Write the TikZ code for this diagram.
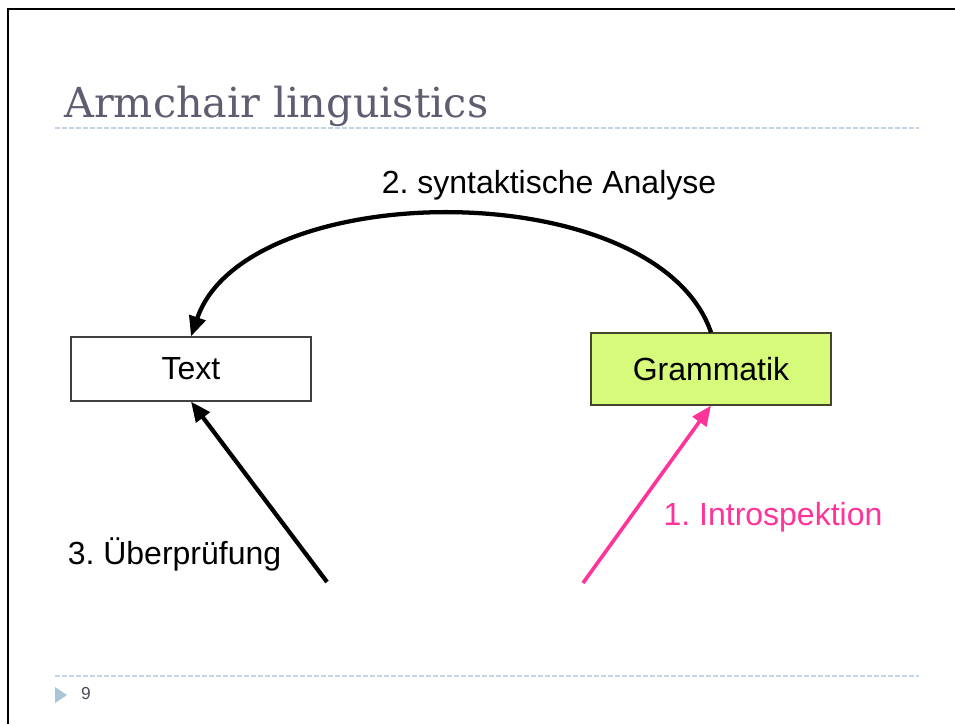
\documentclass[tikz,border=0pt]{standalone}
\usepackage{fontspec}
\setsansfont{Liberation Sans}
\newfontfamily\titlefont{DejaVu Serif}
\usetikzlibrary{arrows.meta}
\definecolor{titlegray}{RGB}{95,93,112}
\definecolor{rulegray}{RGB}{196,212,228}
\definecolor{bulletblue}{RGB}{170,196,216}
\definecolor{gramgreen}{RGB}{214,250,122}
\definecolor{intropink}{RGB}{255,51,153}
\frenchspacing
\begin{document}
\begin{tikzpicture}[x=0.75pt,y=0.75pt,
  box/.style={draw=black!75,line width=0.9pt,minimum width=180pt,inner sep=0pt,font=\sffamily\fontsize{24}{28}\selectfont},
  lab/.style={inner sep=0pt,font=\sffamily\fontsize{24}{28}\selectfont},
  rule/.style={rulegray,line width=1.1pt,dash pattern=on 3.5pt off 1.75pt},
  conn/.style={line width=3.2pt,-{Triangle[length=15pt,width=12.5pt]}}]
\useasboundingbox (0,0) rectangle (955,724);
%\draw[help lines,step=50] (0,0) grid (955,724);
\draw[line width=2.2pt] (8,0)--(8,715)--(955,715);
\node[anchor=base west,inner sep=0pt,text=titlegray,font=\titlefont\fontsize{31}{36}\selectfont] (title) at (64,606) {Armchair linguistics};
\draw[rule] (55,596)--(919,596);
\draw[rule] (55,48)--(919,48);
\fill[bulletblue] (55,37)--(67,29)--(55,21)--cycle;
\node[inner sep=0pt,text=titlegray!80!black,font=\sffamily\fontsize{13}{15}\selectfont] (page) at (86,30) {9};
% boxes
\node[box,minimum height=48pt] (text) at (191,355) {Text};
\node[box,draw=black!65!olive,fill=gramgreen,minimum height=54pt] (gram) at (711,355) {Grammatik};
% steps
\coordinate (checkstart) at (327,142);
\coordinate (introstart) at (583,141);
\draw[conn] (gram.north) .. controls +(-55,160) and +(55,160) .. (text.north);
\draw[conn] (checkstart)--(text.south);
\draw[conn,intropink,line width=2.7pt] (introstart)--(gram.south);
\node[lab] (analyse) at (549,539) {2. syntaktische Analyse};
\node[lab,text=intropink] (intro) at (773,207) {1. Introspektion};
\node[lab] (check) at (174.5,170) {3. Überprüfung};
\end{tikzpicture}
\end{document}
